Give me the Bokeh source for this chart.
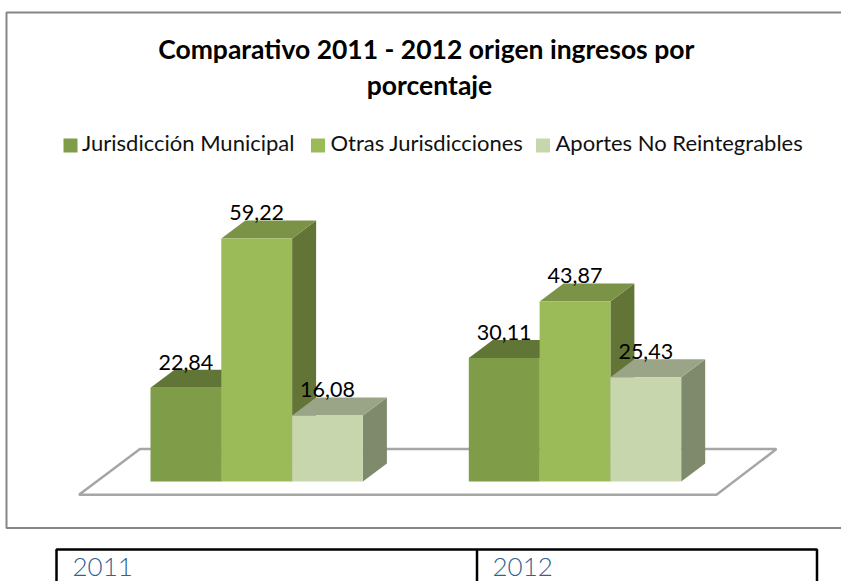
from bokeh.plotting import figure
from bokeh.models import Range1d
from bokeh.core.properties import value
from bokeh.embed import file_html
from bokeh.resources import INLINE

# ---- data ----
title_lines = ["Comparativo 2011 - 2012  origen ingresos por", "porcentaje"]
years = ["2011", "2012"]
series_names = ["Jurisdicción Municipal", "Otras Jurisdicciones", "Aportes No Reintegrables"]
municipal = [22.84, 30.11]
otras = [59.22, 43.87]
aportes = [16.08, 25.43]
value_labels_municipal = ["22,84", "30,11"]
value_labels_otras = ["59,22", "43,87"]
value_labels_aportes = ["16,08", "25,43"]

front = ["#7f9c48", "#9bbb59", "#c7d6ac"]
top = ["#617536", "#7a9347", "#9aa587"]
side = ["#5f7336", "#637536", "#7f8a6d"]

W, H = 841, 581
OFF = 0
PX_X = 318.3          # pixels per category step
PX_Y = 4.103          # pixels per percentage point
GROUP0 = 256.2        # page x of first category centre
BASE = 481.0          # page y of value 0
BAR_W = 70.8 / PX_X
DX = 24.0 / PX_X
DY = 18.0 / PX_Y
SHIFT = 0.38          # baseline correction of the svg text, in font sizes


def sx(px):
    return (px - GROUP0) / PX_X


def sy(py):
    return (BASE - py) / PX_Y


p = figure(width=W, height=H, output_backend="svg", toolbar_location=None,
           x_range=Range1d(sx(OFF), sx(OFF + W)), y_range=Range1d(sy(OFF + H), sy(OFF)),
           min_border=0, outline_line_color=None, background_fill_color="white",
           border_fill_color="white")
p.xaxis.visible = False
p.yaxis.visible = False
p.grid.visible = False

# chart frame (right side runs off the picture)
FRAME = "#868686"
p.line([sx(845), sx(6), sx(6), sx(845)], [sy(12), sy(12), sy(527.5), sy(527.5)],
       line_color=FRAME, line_width=2)

# floor
p.patch([sx(78.5), sx(139.5), sx(776), sx(716)], [sy(494.3), sy(448.5), sy(448.5), sy(494.3)],
        fill_color="white", line_color="#a6a6a6", line_width=2.5)

# bars
all_series = [municipal, otras, aportes]
all_labels = [value_labels_municipal, value_labels_otras, value_labels_aportes]
for g in range(len(years)):
    for s, vals in enumerate(all_series):
        v = vals[g]
        left = g + (s - 1.5) * BAR_W
        right = left + BAR_W
        p.patch([right, right + DX, right + DX, right], [0, DY, v + DY, v],
                fill_color=side[s], line_color=None)
        p.patch([left, left + DX, right + DX, right], [v, v + DY, v + DY, v],
                fill_color=top[s], line_color=None)
        p.quad(left=left, right=right, bottom=0, top=v, fill_color=front[s], line_color=None)

# value labels
VFS = 21.5
for g in range(len(years)):
    for s, vals in enumerate(all_series):
        p.text(x=[g + (s - 1) * BAR_W], y=[vals[g] + (17.5 + SHIFT * VFS) / PX_Y], text=[all_labels[s][g]],
               text_font=value("Lato"), text_font_size=f"{VFS}px", text_color="black",
               text_align="center", text_baseline="alphabetic")

# title
TFS = 26.5
for line, py in zip(title_lines, [58.5, 95]):
    p.text(x=[sx(429)], y=[sy(py - SHIFT * TFS)], text=[line], text_font=value("Lato"),
           text_font_size=f"{TFS}px", text_font_style="bold", text_color="black",
           text_align="center", text_baseline="alphabetic")

# legend
LFS = 22
for name, col, sq, tx in zip(series_names, front, [63, 310.5, 535.5], [81.5, 330, 555]):
    p.quad(left=sx(sq), right=sx(sq + 14), bottom=sy(152), top=sy(138), fill_color=col, line_color=None)
    p.text(x=[sx(tx)], y=[sy(150.3 - SHIFT * LFS)], text=[name], text_font=value("Lato"),
           text_font_size=f"{LFS}px", text_color="#111111", text_align="left", text_baseline="alphabetic")

# table below the chart
p.line([sx(56), sx(56), sx(816.5), sx(816.5)], [sy(590), sy(549), sy(549), sy(590)],
       line_color="black", line_width=2.5)
p.line([sx(476.5), sx(476.5)], [sy(549), sy(590)], line_color="black", line_width=2.5)
YFS = 26
for yr, tx in zip(years, [72, 492]):
    p.text(x=[sx(tx)], y=[sy(576 - SHIFT * YFS)], text=[yr], text_font=value("Lato Light"),
           text_font_size=f"{YFS}px", text_color="#365f91", text_align="left", text_baseline="alphabetic")

open("out.html", "w").write(file_html(p, INLINE))
